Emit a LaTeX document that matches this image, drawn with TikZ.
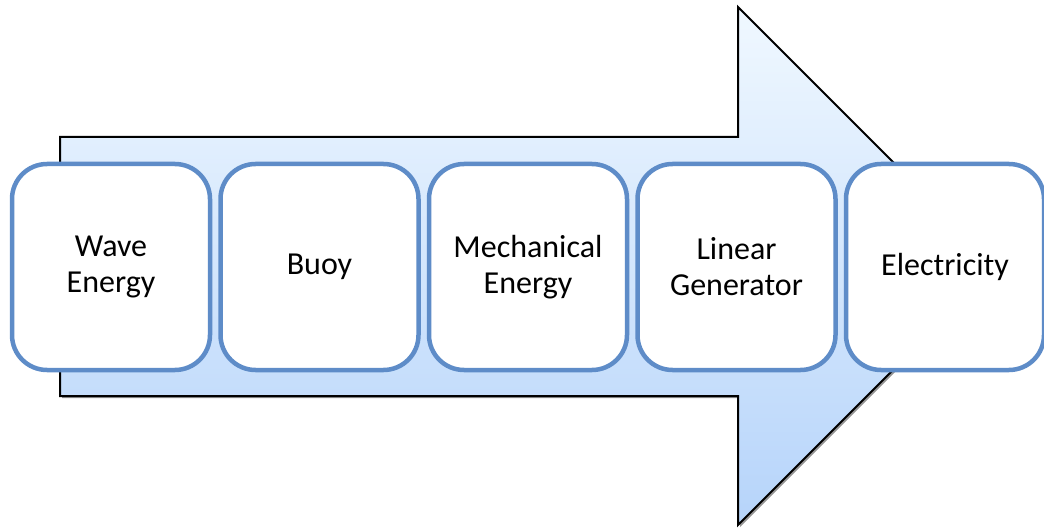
\documentclass[tikz,border=0pt]{standalone}
\usepackage{fontspec}
\setmainfont{Carlito}
\usetikzlibrary{positioning,shadows}
\definecolor{boxblue}{RGB}{94,140,200}
\definecolor{arrtop}{RGB}{240,248,255}
\definecolor{arrbot}{RGB}{182,212,250}
\begin{document}
\begin{tikzpicture}[x=1pt,y=-1pt,inner sep=1pt,
    stage/.style={draw=boxblue,line width=4.5pt,fill=white,rounded corners=35pt,
      minimum width=198pt,minimum height=206pt,align=center,
      font=\fontsize{32}{36}\selectfont},
    bigarrow/.style={draw=black,line width=2pt,top color=arrtop,bottom color=arrbot,
      drop shadow={shadow xshift=2pt,shadow yshift=-2pt,opacity=.6,fill=black!70}}]
   \useasboundingbox (0,0) rectangle (1044,529);
   \draw[bigarrow] (60,137) -- (738,137) -- (738,7) -- (997,266)
      -- (738,525) -- (738,396) -- (60,396) -- cycle;
   \node[stage] (wave) at (111,267) {Wave\\Energy};
   \node[stage,right=6pt of wave] (buoy) {Buoy};
   \node[stage,right=6pt of buoy] (mech) {Mechanical\\Energy};
   \node[stage,right=6pt of mech] (gen) {Linear\\Generator};
   \node[stage,right=6pt of gen] (elec) {Electricity};
\end{tikzpicture}
\end{document}
